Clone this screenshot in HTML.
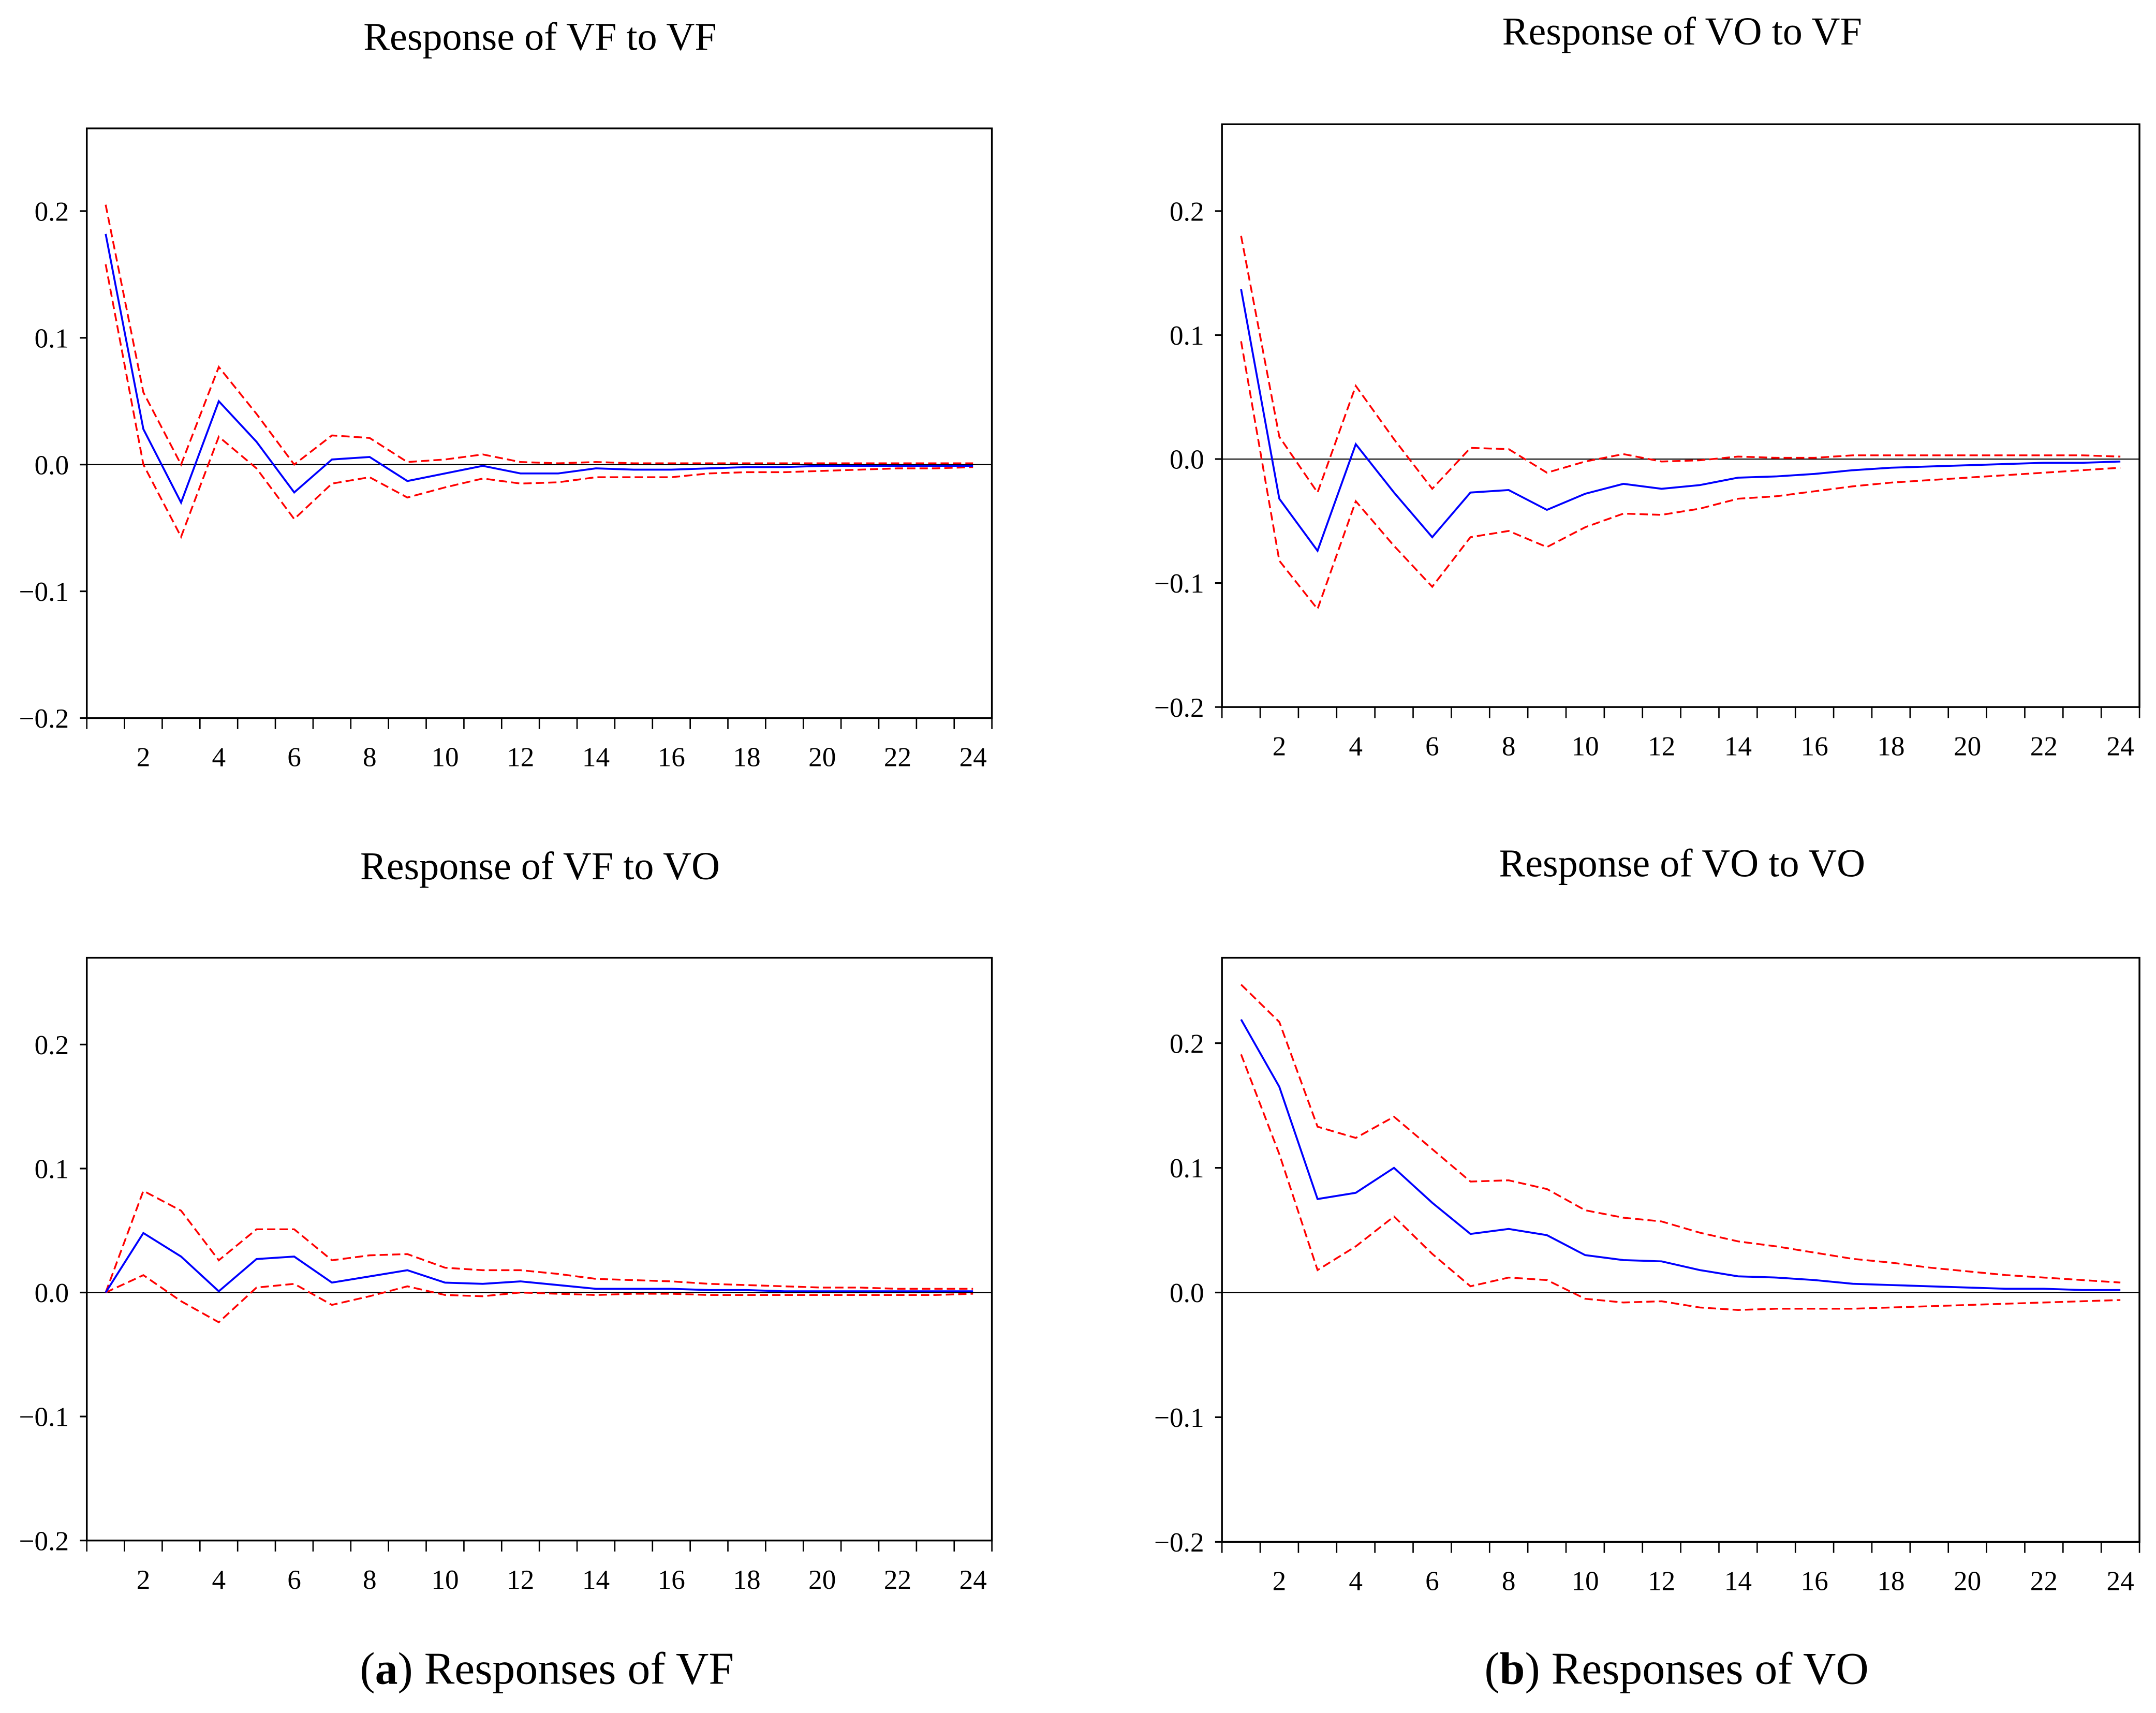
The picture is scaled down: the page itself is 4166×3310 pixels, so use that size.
<!DOCTYPE html>
<html><head><meta charset="utf-8"><style>
html,body{margin:0;padding:0;background:#fff;}
svg{display:block;font-family:"Liberation Serif",serif;}
</style></head><body>
<svg id="fig" width="4166" height="3310" viewBox="0 0 1565 1243" xmlns="http://www.w3.org/2000/svg">
<rect x="0" y="0" width="1565" height="1243" fill="#fff"/>
<text x="397" y="1222" font-size="33" text-anchor="middle">(<tspan font-weight="bold">a</tspan>) Responses of VF</text>
<text x="1217" y="1222" font-size="33" text-anchor="middle">(<tspan font-weight="bold">b</tspan>) Responses of VO</text>
</svg>
<script>
const periods=[1,2,3,4,5,6,7,8,9,10,11,12,13,14,15,16,17,18,19,20,21,22,23,24];
const yTicks=[0.2,0.1,0.0,-0.1,-0.2];
const yTickLabels=["0.2","0.1","0.0","\u22120.1","\u22120.2"];
const xTickLabels=["2","4","6","8","10","12","14","16","18","20","22","24"];
const vfvfMid=[.182,.028,-.03,.05,.018,-.022,.004,.006,-.013,-.007,-.001,-.007,-.007,-.003,-.004,-.004,-.003,-.002,-.002,-.001,-.001,-.001,-.001,-.001];
const vfvfUp=[.205,.057,0,.077,.04,0,.023,.021,.002,.004,.008,.002,.001,.002,.001,.001,.001,.001,.001,.001,.001,.001,.001,.001];
const vfvfLo=[.158,0,-.057,.022,-.003,-.043,-.015,-.01,-.026,-.018,-.011,-.015,-.014,-.01,-.01,-.01,-.007,-.006,-.006,-.005,-.004,-.003,-.003,-.002];
const vovfMid=[.137,-.032,-.074,.012,-.027,-.063,-.027,-.025,-.041,-.028,-.02,-.024,-.021,-.015,-.014,-.012,-.009,-.007,-.006,-.005,-.004,-.003,-.003,-.002];
const vovfUp=[.18,.018,-.027,.059,.016,-.024,.009,.008,-.011,-.002,.004,-.002,-.001,.002,.001,.001,.003,.003,.003,.003,.003,.003,.003,.002];
const vovfLo=[.095,-.082,-.121,-.034,-.07,-.103,-.063,-.058,-.071,-.055,-.044,-.045,-.04,-.032,-.03,-.026,-.022,-.019,-.017,-.015,-.013,-.011,-.009,-.007];
const vfvoMid=[0,.048,.029,.001,.027,.029,.008,.013,.018,.008,.007,.009,.006,.003,.003,.003,.002,.002,.001,.001,.001,.001,.001,.001];
const vfvoUp=[0,.082,.066,.026,.051,.051,.026,.03,.031,.02,.018,.018,.015,.011,.01,.009,.007,.006,.005,.004,.004,.003,.003,.003];
const vfvoLo=[0,.014,-.007,-.024,.004,.007,-.01,-.003,.005,-.002,-.003,0,-.001,-.002,-.001,-.001,-.002,-.002,-.002,-.002,-.002,-.002,-.002,-.001];
const vovoMid=[.219,.165,.075,.08,.1,.072,.047,.051,.046,.03,.026,.025,.018,.013,.012,.01,.007,.006,.005,.004,.003,.003,.002,.002];
const vovoUp=[.247,.217,.133,.124,.141,.115,.089,.09,.083,.066,.06,.057,.048,.041,.037,.032,.027,.024,.02,.017,.014,.012,.01,.008];
const vovoLo=[.191,.111,.018,.037,.061,.031,.005,.012,.01,-.005,-.008,-.007,-.012,-.014,-.013,-.013,-.013,-.012,-.011,-.01,-.009,-.008,-.007,-.006];

const NS="http://www.w3.org/2000/svg";
const svg=document.getElementById('fig');
function mk(tag,attrs,parent){const e=document.createElementNS(NS,tag);for(const k in attrs)e.setAttribute(k,attrs[k]);(parent||svg).appendChild(e);return e;}

const panels=[
 {id:'vf-to-vf',title:'Response of VF to VF',tx:392,ty:36,L:63,R:720,T:93,y0:337,yTop:153,mid:vfvfMid,up:vfvfUp,lo:vfvfLo},
 {id:'vo-to-vf',title:'Response of VO to VF',tx:1221,ty:32,L:887,R:1553,T:90,y0:333,yTop:153,mid:vovfMid,up:vovfUp,lo:vovfLo},
 {id:'vf-to-vo',title:'Response of VF to VO',tx:392,ty:638,L:63,R:720,T:695,y0:938,yTop:758,mid:vfvoMid,up:vfvoUp,lo:vfvoLo},
 {id:'vo-to-vo',title:'Response of VO to VO',tx:1221,ty:636,L:887,R:1553,T:695,y0:938,yTop:757,mid:vovoMid,up:vovoUp,lo:vovoLo}
];
panels.forEach(p=>{
 const g=mk('g',{});
 
 
 const n=periods.length;
 const step=(p.R-p.L)/n;
 const xs=v=>p.L+(v-0.5)*step;
 const ys=v=>p.y0-(v/0.2)*(p.y0-p.yTop);
 const B=ys(-0.2);
 const t=mk('text',{x:p.tx,y:p.ty,'font-size':28.6,'text-anchor':'middle'},g);
 t.textContent=p.title;
 
 
 const fr=mk('rect',{x:p.L,y:p.T,width:p.R-p.L,height:B-p.T,fill:'none',stroke:'#000','stroke-width':1.3},g);
 
 
 const zl=mk('line',{x1:p.L,x2:p.R,y1:ys(0),y2:ys(0),stroke:'#000','stroke-width':0.8},g);
 
 
 yTicks.forEach((v,i)=>{
  const l=mk('line',{x1:p.L-5,x2:p.L,y1:ys(v),y2:ys(v),stroke:'#000','stroke-width':1.2},g);
  
  
  const tt=mk('text',{x:p.L-13,y:ys(v)+7,'font-size':20,'text-anchor':'end'},g);
  tt.textContent=yTickLabels[i];
  
  
 });
 for(let k=0;k<=n;k++){
  const x=p.L+k*step;
  const l=mk('line',{x1:x,x2:x,y1:B,y2:B+8,stroke:'#000','stroke-width':1},g);
  
  
 }
 xTickLabels.forEach(s=>{
  const tt=mk('text',{x:xs(+s),y:B+35,'font-size':20,'text-anchor':'middle'},g);
  tt.textContent=s;
  
  
 });
 const pts=a=>a.map((v,i)=>xs(periods[i]).toFixed(2)+','+ys(v).toFixed(2)).join(' ');
 const u=mk('polyline',{points:pts(p.up),fill:'none',stroke:'#f00','stroke-width':1.3,'stroke-dasharray':'6,3'},g);
 
 
 const lo=mk('polyline',{points:pts(p.lo),fill:'none',stroke:'#f00','stroke-width':1.3,'stroke-dasharray':'6,3'},g);
 
 
 const m=mk('polyline',{points:pts(p.mid),fill:'none',stroke:'#00f','stroke-width':1.4},g);
 
 
});
</script>
</body></html>
